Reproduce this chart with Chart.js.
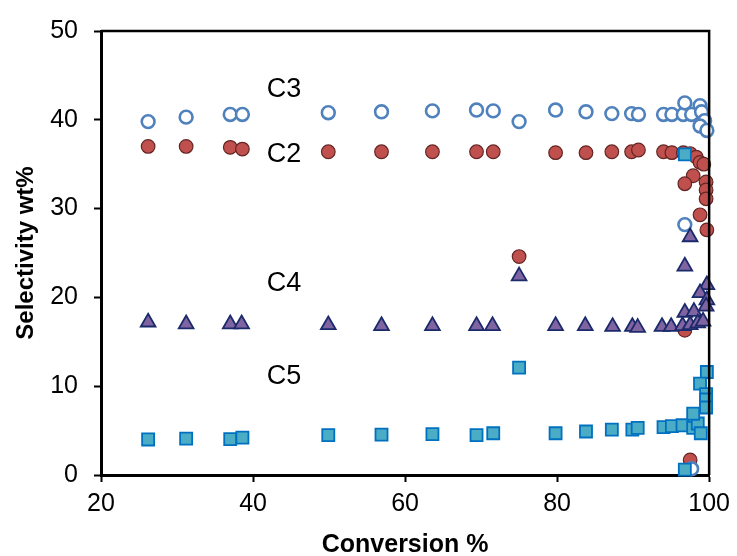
<!DOCTYPE html>
<html lang="en">
<head>
    <meta charset="UTF-8">
    <title>Selectivity vs Conversion</title>
    <script src="https://cdn.jsdelivr.net/npm/chart.js@4.4.1/dist/chart.umd.min.js"></script>
    <style>
        * {
            margin: 0;
            padding: 0;
            box-sizing: border-box;
        }

        body {
            background: #fff;
            width: 737px;
            height: 556px;
            overflow: hidden;
        }
    </style>
</head>
<body>
    <canvas id="selChart" width="737" height="556"></canvas>

    <script>
        // C3 (open circles)
        const c3X = [26.2, 31.2, 37.0, 38.6, 49.9, 56.9, 63.6, 69.4, 71.6, 75.0, 79.8, 83.8, 87.2, 89.8, 90.7,
                     94.0, 95.1, 96.6, 96.8, 97.7, 98.8, 99.0, 99.4, 98.8, 99.7, 96.8, 97.7];
        const c3Y = [39.8, 40.3, 40.6, 40.6, 40.8, 40.9, 41.0, 41.1, 41.0, 39.8, 41.1, 40.9, 40.7, 40.7, 40.6,
                     40.6, 40.6, 40.6, 41.9, 40.6, 41.6, 40.9, 39.9, 39.3, 38.8, 28.2, 0.7];

        // C2 (filled circles)
        const c2X = [26.2, 31.2, 37.0, 38.6, 49.9, 56.9, 63.6, 69.4, 71.6, 75.0, 79.8, 83.8, 87.2, 89.8, 90.7,
                     94.0, 95.1, 96.6, 97.5, 98.3, 98.8, 99.3, 97.9, 96.8, 99.6, 99.6, 99.6, 98.8, 99.7, 96.8, 97.5];
        const c2Y = [37.0, 37.0, 36.9, 36.7, 36.4, 36.4, 36.4, 36.4, 36.4, 24.6, 36.3, 36.3, 36.4, 36.4, 36.6,
                     36.4, 36.3, 36.3, 36.2, 35.8, 35.2, 35.0, 33.7, 32.8, 33.0, 32.1, 31.1, 29.3, 27.6, 16.3, 1.7];

        // C4 (triangles)
        const c4X = [26.2, 31.2, 37.0, 38.5, 49.9, 56.9, 63.6, 69.4, 71.5, 75.0, 79.8, 83.7, 87.3, 89.9, 90.6,
                     93.8, 95.0, 96.5, 96.8, 97.5, 97.5, 96.8, 98.0, 98.5, 99.2, 99.7, 98.8, 99.7, 99.6];
        const c4Y = [17.2, 17.0, 17.0, 17.0, 16.9, 16.8, 16.8, 16.8, 16.8, 22.4, 16.8, 16.8, 16.7, 16.7, 16.6,
                     16.7, 16.7, 16.8, 18.3, 16.9, 26.8, 23.5, 18.4, 17.1, 17.3, 21.4, 20.5, 19.7, 19.0];

        // C5 (squares)
        const c5X = [26.2, 31.2, 37.0, 38.6, 49.9, 56.9, 63.6, 69.4, 71.6, 75.0, 79.8, 83.8, 87.2, 89.9, 90.6,
                     94.0, 95.1, 96.5, 97.9, 98.5, 98.9, 97.9, 99.7, 98.8, 99.6, 99.6, 99.6, 96.8, 96.8];
        const c5Y = [4.0, 4.1, 4.05, 4.2, 4.5, 4.55, 4.6, 4.5, 4.7, 12.1, 4.7, 4.9, 5.1, 5.1, 5.3,
                     5.4, 5.5, 5.6, 5.3, 5.8, 4.7, 6.9, 11.6, 10.3, 9.1, 8.5, 7.6, 36.1, 0.6];

        const xTicks = [20, 40, 60, 80, 100];
        const yTicks = [0, 10, 20, 30, 40, 50];

        // series labels placed in the plot (data coords)
        const seriesLabels = ['C3', 'C2', 'C4', 'C5'];
        const labelX = [41.8, 41.8, 41.8, 41.8];
        const labelY = [43.4, 36.1, 21.6, 11.1];

        const FONT = '"Liberation Sans", Arial, sans-serif';

        function toPoints(xs, ys) {
            return xs.map((x, i) => ({ x: x, y: ys[i] }));
        }

        // frame on top and right + series names
        const framePlugin = {
            id: 'frame',
            afterDraw(chart) {
                const ctx = chart.ctx;
                const a = chart.chartArea;
                ctx.save();
                ctx.strokeStyle = '#000';
                ctx.lineWidth = 2.5;
                ctx.beginPath();
                ctx.moveTo(a.left, a.top);
                ctx.lineTo(a.right, a.top);
                ctx.lineTo(a.right, a.bottom);
                ctx.stroke();

                const xs = chart.scales.x;
                const ys = chart.scales.y;
                ctx.fillStyle = '#000';
                ctx.font = '27px ' + FONT;
                ctx.textAlign = 'left';
                ctx.textBaseline = 'middle';
                seriesLabels.forEach((t, i) => {
                    ctx.fillText(t, xs.getPixelForValue(labelX[i]), ys.getPixelForValue(labelY[i]));
                });
                ctx.restore();
            }
        };

        const ctx = document.getElementById('selChart').getContext('2d');

        new Chart(ctx, {
            type: 'scatter',
            data: {
                datasets: [
                    {
                        label: 'C5',
                        data: toPoints(c5X, c5Y),
                        pointStyle: 'rect',
                        pointRadius: 8.5,
                        backgroundColor: '#4BACC6',
                        borderColor: '#0070C0',
                        borderWidth: 1.8,
                        clip: false
                    },
                    {
                        label: 'C4',
                        data: toPoints(c4X, c4Y),
                        pointStyle: 'triangle',
                        pointRadius: 8.5,
                        backgroundColor: '#8064A2',
                        borderColor: '#1B2A6B',
                        borderWidth: 1.8,
                        clip: false
                    },
                    {
                        label: 'C3',
                        data: toPoints(c3X, c3Y),
                        pointStyle: 'circle',
                        pointRadius: 6.4,
                        backgroundColor: '#fff',
                        borderColor: '#4F81BD',
                        borderWidth: 2.6,
                        clip: false
                    },
                    {
                        label: 'C2',
                        data: toPoints(c2X, c2Y),
                        pointStyle: 'circle',
                        pointRadius: 6.8,
                        backgroundColor: '#C0504D',
                        borderColor: '#632523',
                        borderWidth: 1.2,
                        clip: false
                    }
                ]
            },
            options: {
                responsive: false,
                animation: false,
                layout: {
                    padding: { top: 28, right: 26, left: 0, bottom: 0 }
                },
                plugins: {
                    legend: { display: false },
                    tooltip: { enabled: false }
                },
                scales: {
                    x: {
                        type: 'linear',
                        min: 20,
                        max: 100,
                        afterBuildTicks(scale) {
                            scale.ticks = xTicks.map(v => ({ value: v }));
                        },
                        afterFit(scale) {
                            scale.height = 81;
                        },
                        grid: {
                            drawOnChartArea: false,
                            tickLength: 7,
                            tickWidth: 2,
                            color: '#000'
                        },
                        border: { color: '#000', width: 3 },
                        ticks: {
                            color: '#000',
                            padding: 7,
                            font: { family: FONT, size: 25 }
                        },
                        title: {
                            display: true,
                            text: 'Conversion %',
                            color: '#000',
                            padding: { top: 0, bottom: 0 },
                            font: { family: FONT, size: 25, weight: 'bold', lineHeight: 0.9 }
                        }
                    },
                    y: {
                        min: 0,
                        max: 50,
                        afterBuildTicks(scale) {
                            scale.ticks = yTicks.map(v => ({ value: v }));
                        },
                        afterFit(scale) {
                            scale.width = 101;
                        },
                        grid: {
                            drawOnChartArea: false,
                            tickLength: 7,
                            tickWidth: 2,
                            color: '#000'
                        },
                        border: { color: '#000', width: 3 },
                        ticks: {
                            color: '#000',
                            padding: 16,
                            font: { family: FONT, size: 25 }
                        },
                        title: {
                            display: true,
                            text: 'Selectivity wt%',
                            color: '#000',
                            padding: { top: 14, bottom: 0 },
                            font: { family: FONT, size: 24, weight: 'bold', lineHeight: 1.0 }
                        }
                    }
                }
            },
            plugins: [framePlugin]
        });
    </script>
</body>
</html>
